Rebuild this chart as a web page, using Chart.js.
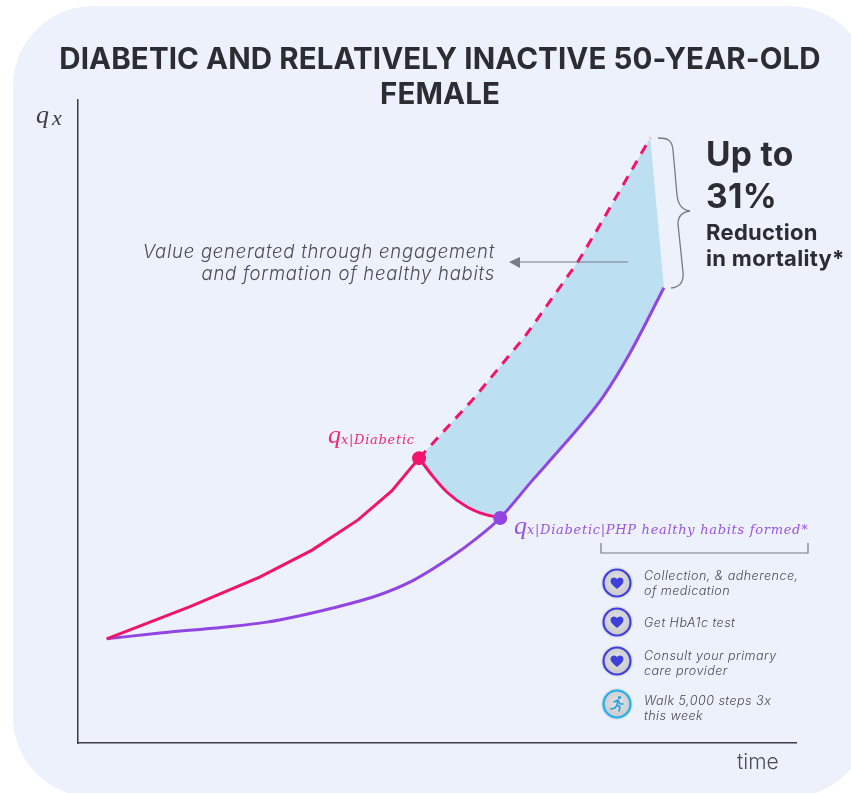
<!DOCTYPE html>
<html>
<head>
<meta charset="utf-8">
<title>Diabetic and relatively inactive 50-year-old female</title>
<script src="https://cdn.jsdelivr.net/npm/chart.js@4"></script>
<style>
    html, body { margin: 0; padding: 0; background: #fff; }
    body { position: relative; width: 851px; height: 793px; overflow: hidden; font-family: Inter, sans-serif; }
    #panel { position: absolute; left: 13px; top: 6px; width: 857px; height: 791px; background: #ecf1fb; border-radius: 80px; }
    #qxChart { position: absolute; left: 0; top: 0; }
    svg.overlay { position: absolute; left: 0; top: 0; }
    .txt { position: absolute; white-space: nowrap; }
    #title { left: 40px; width: 800px; top: 41px; text-align: center; font-size: 29.5px; line-height: 35px; font-weight: 700; color: #2b2d33; letter-spacing: 0.1px; }
    .big { left: 706px; font-size: 33.5px; font-weight: 700; color: #2b2d33; letter-spacing: 0.3px; }
    .sub { left: 706px; font-size: 22px; font-weight: 700; color: #2b2d33; letter-spacing: 0.3px; }
    .note { font-style: italic; font-size: 18.5px; font-weight: 300; color: #4a4c55; text-align: right; letter-spacing: 0.75px; }
    .item { left: 644px; font-style: italic; font-size: 12.6px; line-height: 15px; font-weight: 300; color: #4a4c55; letter-spacing: 0.45px; }
    .q { font-family: "Liberation Serif", serif; font-style: italic; font-size: 26px; }
    .qsub { font-family: "DejaVu Serif", serif; font-style: italic; font-size: 13px; letter-spacing: 0.7px; }
    .pink { color: #ee2a7b; }
    .purple { color: #9a55e0; }
</style>
</head>
<body>
<div id="panel"></div>
<canvas id="qxChart" width="851" height="793"></canvas>

<svg class="overlay" width="851" height="793" fill="none">
    <!-- brace next to the gap -->
    <path d="M658 138 C668 138 672 140 673 150 L677 195 C678 205 682 210 690 211 C682 212 678 216 678 224 L683 272 C684 282 680 287 671 288" stroke="#777b85" stroke-width="1.3"/>
    <!-- arrow to the note -->
    <line x1="628" y1="262" x2="518" y2="262" stroke="#777b85" stroke-width="1.2"/>
    <path d="M509 262 L520 257 L520 268 Z" fill="#777b85"/>
    <!-- bracket over the habit list -->
    <path d="M601 543 V553 H808 V543" stroke="#777b85" stroke-width="1.2"/>
    <defs>
        <radialGradient id="disc" cx="50%" cy="45%" r="60%">
            <stop offset="0%" stop-color="#e6e6e8"/>
            <stop offset="100%" stop-color="#c4c5c8"/>
        </radialGradient>
        <g id="heart-icon">
            <circle r="16" fill="#dfe2ea"/>
            <circle r="13.5" fill="url(#disc)" stroke="#3f3fdc" stroke-width="2.2"/>
            <path d="M0 6 C-4 3 -6.5 0.5 -6.5 -2 C-6.5 -4.5 -4.5 -5.5 -3 -5.5 C-1.5 -5.5 -0.5 -4.7 0 -3.8 C0.5 -4.7 1.5 -5.5 3 -5.5 C4.5 -5.5 6.5 -4.5 6.5 -2 C6.5 0.5 4 3 0 6 Z" fill="#3f3fdc"/>
        </g>
    </defs>
    <use href="#heart-icon" x="617" y="583"/>
    <use href="#heart-icon" x="617" y="622"/>
    <use href="#heart-icon" x="617" y="661"/>
    <g transform="translate(617 704)">
        <circle r="16" fill="#dfe2ea"/>
        <circle r="13.5" fill="url(#disc)" stroke="#1eb0ea" stroke-width="2.2"/>
        <circle cx="2.5" cy="-6.5" r="1.6" fill="#1e9fe0"/>
        <path d="M-3 -2 L1 -4 L3 0 L6 0 M1 -4 L0 1 L3 3 L2 7 M0 1 L-2 4 L-6 5" stroke="#1e9fe0" stroke-width="1.6" stroke-linecap="round" stroke-linejoin="round"/>
    </g>
</svg>

<div id="title" class="txt">DIABETIC AND RELATIVELY INACTIVE 50-YEAR-OLD<br>FEMALE</div>

<div class="txt q" style="left:36px;top:100px;color:#3d3f47;">q</div>
<div class="txt q" style="left:52px;top:105px;color:#3d3f47;font-size:22px;">x</div>
<div class="txt" style="left:737px;top:749px;font-size:21px;font-weight:300;color:#4a4c55;">time</div>

<div class="txt big" style="top:134px;">Up to</div>
<div class="txt big" style="top:176px;">31%</div>
<div class="txt sub" style="top:219px;">Reduction</div>
<div class="txt sub" style="top:245px;">in mortality*</div>

<div class="txt note" style="right:356px;top:240px;">Value generated through engagement</div>
<div class="txt note" style="right:356px;top:262px;">and formation of healthy habits</div>

<div class="txt q pink" style="left:328px;top:420px;">q</div>
<div class="txt qsub pink" style="left:341px;top:432px;">x|Diabetic</div>
<div class="txt q purple" style="left:514px;top:511px;">q</div>
<div class="txt qsub purple" style="left:527px;top:522px;">x|Diabetic|PHP healthy habits formed*</div>

<div class="txt item" style="top:568px;">Collection, &amp; adherence,<br>of medication</div>
<div class="txt item" style="top:615px;">Get HbA1c test</div>
<div class="txt item" style="top:648px;">Consult your primary<br>care provider</div>
<div class="txt item" style="top:693px;">Walk 5,000 steps 3x<br>this week</div>

<script>
    // qx before the intervention, up to the point where it starts
    const diabeticTime = [4.0, 15.6, 25.3, 32.6, 39.0, 43.7, 47.5];
    const diabeticQx = [16.2, 21.2, 25.8, 30.0, 34.7, 39.2, 44.3];

    // projected qx if nothing changes (dashed)
    const projectedTime = [47.5, 54.9, 62.3, 69.6, 72.3, 79.7];
    const projectedQx = [44.3, 53.3, 63.3, 74.8, 79.8, 94.1];

    // qx dropping onto the healthy habits curve
    const dropTime = [47.5, 49.4, 51.4, 54.2, 56.0, 58.8];
    const dropQx = [44.3, 41.5, 39.0, 36.7, 35.8, 35.0];

    // qx with healthy habits formed
    const habitsTime = [4.0, 11.4, 20.2, 26.3, 30.9, 35.5, 41.6, 46.7, 51.8, 55.6, 58.8, 63.4, 66.9, 70.3, 73.1, 76.9, 81.6];
    const habitsQx = [16.2, 17.1, 18.0, 18.8, 19.8, 21.0, 22.9, 25.3, 28.8, 31.9, 35.0, 41.0, 45.4, 49.8, 53.8, 60.7, 70.8];

    const PINK = '#f0146c';
    const PURPLE = '#9146e3';

    const toPoints = (xs, ys) => xs.map((x, i) => ({ x: x, y: ys[i] }));

    const projected = toPoints(projectedTime, projectedQx);
    const drop = toPoints(dropTime, dropQx);
    const habits = toPoints(habitsTime, habitsQx);
    const dropEnd = drop[drop.length - 1];
    const afterDrop = habits.filter(p => p.x >= dropEnd.x);

    // closed outline of the value area: up the dashed line, back down the purple one, back along the drop
    const gapOutline = projected.concat(afterDrop.slice().reverse(), drop.slice().reverse());

    const lineStyle = { showLine: true, pointRadius: 0, fill: false, tension: 0, borderWidth: 3 };

    new Chart(document.getElementById('qxChart').getContext('2d'), {
        type: 'scatter',
        data: {
            datasets: [
                {
                    label: 'markers',
                    data: [projected[0], dropEnd],
                    showLine: false,
                    pointRadius: 7,
                    pointHoverRadius: 7,
                    pointBorderWidth: 0,
                    pointBackgroundColor: [PINK, PURPLE]
                },
                Object.assign({ label: 'qx diabetic', data: toPoints(diabeticTime, diabeticQx), borderColor: PINK }, lineStyle),
                Object.assign({ label: 'projected', data: projected, borderColor: PINK, borderDash: [10, 8] }, lineStyle),
                Object.assign({}, lineStyle, { label: 'drop', data: drop, borderColor: PINK, cubicInterpolationMode: 'monotone' }),
                Object.assign({}, lineStyle, { label: 'qx habits formed', data: habits, borderColor: PURPLE, cubicInterpolationMode: 'monotone' }),
                {
                    label: 'value generated',
                    data: gapOutline,
                    showLine: true,
                    pointRadius: 0,
                    borderWidth: 0,
                    tension: 0,
                    fill: 'shape',
                    backgroundColor: '#bcdff2'
                }
            ]
        },
        options: {
            responsive: false,
            animation: false,
            events: [],
            layout: { padding: { left: 78, top: 100, right: 55, bottom: 50 } },
            plugins: { legend: { display: false }, tooltip: { enabled: false } },
            scales: {
                x: {
                    min: 0,
                    max: 100,
                    grid: { display: false, drawTicks: false },
                    ticks: { display: false },
                    border: { color: '#3a3d46', width: 1.5 }
                },
                y: {
                    min: 0,
                    max: 100,
                    grid: { display: false, drawTicks: false },
                    ticks: { display: false },
                    border: { color: '#3a3d46', width: 1.5 }
                }
            }
        }
    });
</script>
</body>
</html>
